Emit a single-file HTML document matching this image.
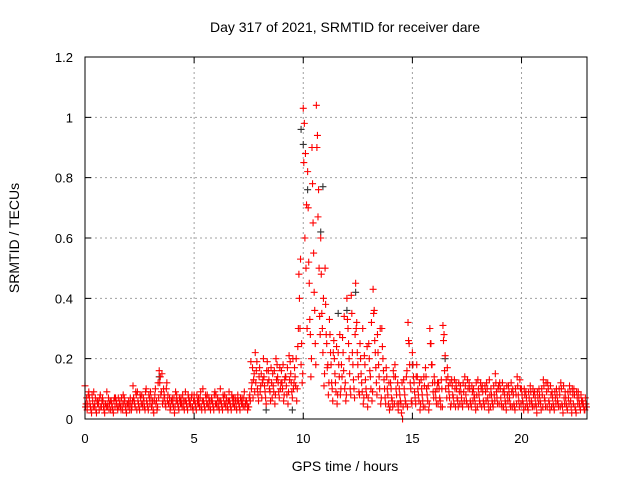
<!DOCTYPE html>
<html><head><meta charset="utf-8"><style>
body{margin:0;background:#fff;}
svg{display:block;font-family:"Liberation Sans",sans-serif;}
</style></head><body>
<svg id="chart" width="640" height="480" viewBox="0 0 640 480" xmlns="http://www.w3.org/2000/svg">
<rect width="640" height="480" fill="#fff"/>
<text x="345" y="32" text-anchor="middle" font-size="14">Day 317 of 2021, SRMTID for receiver dare</text>
<text x="345" y="471" text-anchor="middle" font-size="14">GPS time / hours</text>
<text transform="translate(19,238) rotate(-90)" text-anchor="middle" font-size="14">SRMTID / TECUs</text>
<g id="grid"></g><g id="ticks"></g><g id="marks"></g>
<rect x="85" y="57" width="502" height="362" fill="none" stroke="#000" stroke-width="1"/>
</svg>
<script>
const xTicks=[0,5,10,15,20];
const yTicks=[0,0.2,0.4,0.6,0.8,1,1.2];
const yTickLabels=["0","0.2","0.4","0.6","0.8","1","1.2"];
const redHours=[0,0.2,0.4,0.6,0.8,1,1.2,1.4,1.6,1.8,2,2.2,2.4,2.6,2.8,3,3.2,3.4,3.6,3.8,4,4.2,4.4,4.6,4.8,5,5.2,5.4,5.6,5.8,6,6.2,6.4,6.6,6.8,7,7.2,7.4,7.6,7.8,8,8.2,8.4,8.6,8.8,9,9.2,9.4,9.6,9.8,10,10.2,10.4,10.6,10.8,11,11.2,11.4,11.6,11.8,12,12.2,12.4,12.6,12.8,13,13.2,13.4,13.6,13.8,14,14.2,14.4,14.6,14.8,15,15.2,15.4,15.6,15.8,16,16.2,16.4,16.6,16.8,17,17.2,17.4,17.6,17.8,18,18.2,18.4,18.6,18.8,19,19.2,19.4,19.6,19.8,20,20.2,20.4,20.6,20.8,21,21.2,21.4,21.6,21.8,22,22.2,22.4,22.6,22.8];
const redValues=[
[.11,.05,.03,.08],[.07,.04,.02,.06],[.09,.05,.03,.06],[.06,.03,.08,.04],[.07,.04,.02,.05],[.09,.05,.03,.06],[.06,.04,.02,.07],[.07,.05,.03,.04],[.06,.03,.05,.08],[.07,.04,.02,.05],
[.06,.03,.05,.04],[.11,.06,.04,.08],[.09,.05,.03,.07],[.08,.04,.06,.03],[.10,.05,.03,.07],[.09,.04,.06,.02],[.08,.05,.03,.12],[.16,.14,.09,.05],[.10,.07,.04,.12],[.08,.05,.03,.06],
[.07,.04,.02,.09],[.08,.05,.03,.06],[.07,.04,.06,.03],[.09,.05,.03,.07],[.06,.04,.08,.03],[.08,.05,.03,.06],[.07,.04,.09,.03],[.10,.05,.03,.07],[.08,.04,.06,.03],[.07,.05,.03,.09],
[.08,.04,.06,.03],[.10,.05,.03,.07],[.08,.04,.06,.03],[.09,.05,.03,.07],[.07,.04,.06,.03],[.08,.05,.03,.06],[.07,.04,.09,.05],[.06,.03,.04,.08],[.19,.12,.07,.15],[.22,.16,.10,.06],
[.17,.11,.07,.13],[.14,.09,.05,.19],[.16,.10,.06,.12],[.15,.09,.05,.20],[.18,.12,.07,.10],[.16,.10,.06,.13],[.14,.08,.05,.21],[.19,.12,.07,.10],[.17,.11,.06,.24],[.48,.30,.18,.12],
[1.03,.98,.88,.71],[.82,.52,.33,.14],[.90,.65,.42,.25],[1.04,.94,.76,.34],[.60,.35,.22,.11],[.50,.28,.17,.08],[.33,.22,.12,.06],[.26,.15,.09,.05],[.22,.14,.08,.18],[.27,.16,.10,.06],
[.40,.30,.20,.10],[.41,.22,.13,.07],[.45,.32,.18,.09],[.25,.15,.09,.05],[.21,.13,.08,.04],[.25,.16,.10,.06],[.43,.36,.22,.12],[.28,.18,.10,.05],[.30,.20,.13,.07],[.17,.10,.05,.03],
[.12,.07,.04,.14],[.18,.10,.05,.03],[.10,.06,.02,0],[.13,.08,.05,.16],[.32,.25,.12,.06],[.22,.14,.09,.05],[.18,.10,.06,.03],[.13,.08,.04,.11],[.17,.10,.06,.03],[.30,.25,.18,.09],
[.14,.09,.05,.12],[.12,.07,.04,.10],[.31,.28,.21,.13],[.17,.11,.07,.04],[.13,.08,.05,.10],[.12,.07,.04,.09],[.11,.07,.04,.09],[.14,.08,.05,.10],[.12,.06,.04,.09],[.10,.07,.03,.08],
[.13,.08,.05,.10],[.11,.06,.04,.09],[.12,.07,.03,.08],[.10,.06,.04,.08],[.15,.09,.05,.11],[.12,.07,.04,.09],[.10,.06,.03,.08],[.11,.07,.04,.09],[.10,.05,.03,.08],[.14,.08,.04,.10],
[.10,.06,.03,.08],[.09,.05,.03,.07],[.11,.06,.04,.08],[.09,.05,.02,.07],[.10,.06,.03,.08],[.13,.07,.04,.09],[.12,.06,.03,.08],[.09,.05,.03,.07],[.10,.06,.04,.08],[.12,.05,.02,.07],
[.09,.05,.03,.07],[.11,.06,.02,.08],[.10,.04,.02,.07],[.09,.05,.03,.06],[.06,.04,.03,.05]];
const redValuesB=[
[.04,.07,.05,.09],[.05,.03,.08,.04],[.04,.07,.02,.05],[.05,.07,.04,.06],[.06,.03,.05,.04],[.04,.07,.05,.03],[.05,.03,.06,.04],[.06,.04,.07,.05],[.04,.07,.03,.05],[.06,.03,.05,.04],
[.05,.07,.03,.06],[.07,.05,.09,.03],[.06,.04,.08,.05],[.05,.07,.04,.09],[.06,.04,.08,.05],[.07,.05,.03,.06],[.10,.06,.04,.07],[.12,.08,.15,.06],[.08,.05,.10,.06],[.05,.07,.04,.06],
[.05,.07,.04,.06],[.06,.04,.07,.05],[.05,.08,.04,.06],[.06,.04,.08,.05],[.05,.07,.04,.06],[.06,.04,.08,.05],[.05,.07,.04,.06],[.06,.04,.08,.05],[.05,.07,.04,.06],[.06,.04,.08,.05],
[.05,.07,.04,.06],[.06,.04,.08,.05],[.05,.07,.04,.06],[.06,.04,.08,.05],[.05,.07,.04,.06],[.06,.04,.07,.05],[.05,.07,.04,.06],[.05,.04,.07,.06],[.10,.17,.13,.09],[.12,.19,.08,.14],
[.09,.15,.12,.20],[.11,.07,.16,.12],[.13,.09,.17,.07],[.11,.16,.08,.13],[.14,.09,.17,.12],[.12,.18,.08,.14],[.11,.17,.09,.13],[.15,.09,.20,.12],[.14,.20,.10,.30],[.40,.53,.25,.15],
[.85,.60,.50,.30],[.70,.45,.28,.20],[.78,.55,.36,.18],[.90,.67,.50,.28],[.48,.30,.40,.15],[.38,.25,.18,.12],[.28,.18,.10,.22],[.20,.12,.24,.08],[.18,.28,.10,.14],[.22,.34,.12,.08],
[.33,.25,.15,.08],[.35,.18,.10,.28],[.30,.22,.14,.08],[.20,.12,.30,.07],[.18,.10,.24,.07],[.20,.14,.32,.09],[.35,.26,.17,.08],[.22,.14,.30,.07],[.24,.16,.10,.05],[.14,.08,.12,.04],
[.10,.06,.16,.05],[.14,.08,.12,.05],[.08,.05,.12,.04],[.10,.06,.14,.04],[.26,.18,.10,.05],[.18,.12,.07,.14],[.14,.08,.12,.05],[.10,.06,.14,.04],[.14,.08,.11,.05],[.25,.18,.12,.07],
[.12,.07,.10,.05],[.10,.06,.13,.04],[.26,.16,.10,.07],[.14,.09,.12,.05],[.11,.07,.13,.04],[.10,.06,.12,.05],[.09,.05,.12,.06],[.11,.06,.13,.04],[.10,.05,.11,.06],[.08,.05,.12,.04],
[.10,.06,.12,.04],[.09,.05,.11,.06],[.10,.05,.13,.04],[.08,.05,.11,.06],[.12,.07,.10,.05],[.10,.05,.12,.04],[.08,.05,.11,.06],[.09,.05,.12,.04],[.08,.04,.10,.05],[.11,.06,.13,.05],
[.08,.05,.10,.04],[.07,.04,.09,.05],[.09,.05,.10,.04],[.07,.04,.09,.05],[.08,.05,.10,.04],[.11,.06,.12,.04],[.10,.05,.11,.04],[.07,.04,.09,.05],[.08,.05,.10,.04],[.10,.04,.11,.05],
[.07,.04,.09,.05],[.09,.04,.10,.05],[.08,.03,.09,.05],[.07,.04,.08,.05],[.05,.03,.07,.04]];
const blackHours=[3.4,8.3,9.5,9.9,10.0,10.2,10.8,10.9,11.6,12.0,12.4,15.0,16.5];
const blackValues=[.14,.03,.03,.96,.91,.76,.62,.77,.35,.36,.42,.18,.20];

const X0=85,X1=587,Y0=419,Y1=57,XMAX=23,YMAX=1.2;
function xs(h){return X0+h/XMAX*(X1-X0);}
function ys(v){return Y0-v/YMAX*(Y0-Y1);}
const NS="http://www.w3.org/2000/svg";
function mk(tag,attrs,parent){const e=document.createElementNS(NS,tag);for(const k in attrs)e.setAttribute(k,attrs[k]);parent.appendChild(e);return e;}
const grid=document.getElementById('grid'),ticks=document.getElementById('ticks'),marks=document.getElementById('marks');
xTicks.forEach(t=>{
  const x=xs(t);
  if(t>0){const g=mk('line',{x1:x,x2:x,y1:Y0,y2:Y1,stroke:'#a0a0a0','stroke-dasharray':'2,3'},grid);
  
  }
  mk('path',{d:`M${x},${Y0}v-6M${x},${Y1}v6`,stroke:'#000'},ticks);
  const l=mk('text',{x:x,y:Y0+24,'text-anchor':'middle','font-size':'13'},ticks);l.textContent=String(t);
  
  
});
yTicks.forEach((t,i)=>{
  const y=ys(t);
  if(t>0){const g=mk('line',{x1:X0,x2:X1,y1:y,y2:y,stroke:'#a0a0a0','stroke-dasharray':'2,3'},grid);
  
  }
  mk('path',{d:`M${X0},${y}h6M${X1},${y}h-6`,stroke:'#000'},ticks);
  const l=mk('text',{x:X0-12,y:y+5,'text-anchor':'end','font-size':'13'},ticks);l.textContent=yTickLabels[i];
  
  
});
function plus(h,v,color,name){
  const x=xs(h),y=ys(v);
  const p=mk('path',{d:`M${x-3.5},${y}H${x+3.5}M${x},${y-3.5}V${y+3.5}`,stroke:color,'stroke-width':'1.1',fill:'none'},marks);
  
  
}
blackHours.forEach((h,i)=>plus(h,blackValues[i],'#333','black-point'));
redHours.forEach((h,i)=>redValues[i].forEach((v,j)=>plus(h+j*0.05,v,'#ff0000','red-point')));
redHours.forEach((h,i)=>redValuesB[i].forEach((v,j)=>plus(h+0.025+j*0.05,v,'#ff0000','red-point')));
</script>
</body></html>
